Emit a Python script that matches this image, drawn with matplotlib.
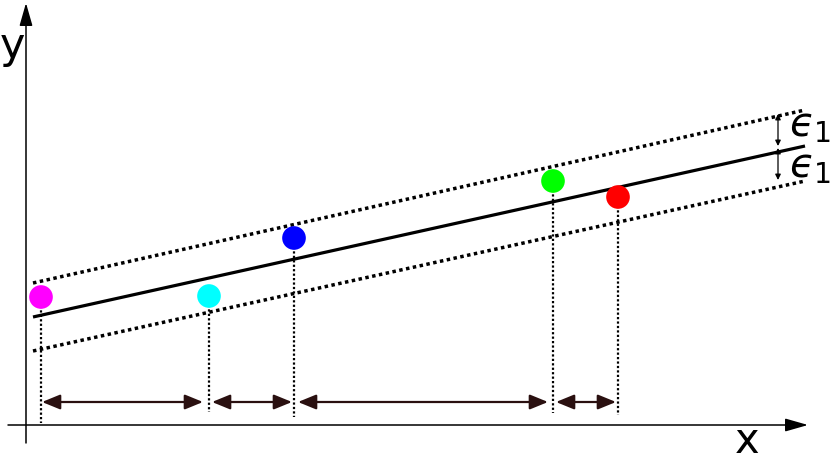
import numpy as np
import matplotlib.pyplot as plt

# coordinates in picture units (x to the right, y downwards)
pt_x = [41, 209, 294, 553, 618]
pt_y = [297, 296, 238, 181, 197]
pt_colors = ['#ff00ff', '#00ffff', '#0000ff', '#00ff00', '#ff0000']

line_x = [33, 805]
line_mid = [317, 146]
line_up = [283, 110]
line_low = [351, 181]

drop_end = [423, 412, 417, 413, 415]
span_x0 = [42, 212, 298, 556]
span_x1 = [203, 292, 548, 616]
span_y = 402

eps_x = 778
eps_y = [[114, 146], [148, 180]]
eps_label_y = [125, 166]

fig = plt.figure(figsize=(8.3, 4.61), dpi=100)
ax = fig.add_axes([0, 0, 1, 1])
ax.set_xlim(0, 830)
ax.set_ylim(461, 0)
ax.axis('off')

# axes with arrows
axis_arrow = dict(arrowstyle='-|>,head_length=1.4,head_width=0.4',
                  color='black', lw=1.1, mutation_scale=10, shrinkA=0, shrinkB=0)
ax.annotate('', xy=(26, 3), xytext=(26, 443), arrowprops=axis_arrow)
ax.annotate('', xy=(808, 425), xytext=(8, 425), arrowprops=axis_arrow)
ax.text(12, 46, 'y', fontsize=31, ha='center', va='center')
ax.text(747, 441, 'x', fontsize=30, ha='center', va='center')

# regression line and tube
ax.plot(line_x, line_mid, color='black', lw=2.3, solid_capstyle='butt')
ax.plot(line_x, line_up, color='black', lw=2.5, ls=(0, (1, 1)))
ax.plot(line_x, line_low, color='black', lw=2.5, ls=(0, (1, 1)))

# drops from points to the x axis
for x, y, e in zip(pt_x, pt_y, drop_end):
    ax.plot([x, x], [y, e], color='black', lw=1.6, ls=(0, (1, 1)))

ax.scatter(pt_x, pt_y, s=290, c=pt_colors, zorder=5, edgecolors='none')

# distance arrows
for a, b in zip(span_x0, span_x1):
    ax.annotate('', xy=(b, span_y), xytext=(a, span_y),
                arrowprops=dict(arrowstyle='<|-|>,head_length=1.1,head_width=0.45',
                                color='#2a1010', lw=1.6,
                                mutation_scale=10, shrinkA=0, shrinkB=0))

# epsilon markers
for (a, b), ly in zip(eps_y, eps_label_y):
    ax.annotate('', xy=(eps_x, b), xytext=(eps_x, a),
                arrowprops=dict(arrowstyle='<|-|>', color='black', lw=0.9,
                                mutation_scale=8, shrinkA=0, shrinkB=0))
    ax.text(789, ly, '$ϵ_1$', fontsize=29, ha='left', va='center')

fig.savefig('out.png', dpi=100)
